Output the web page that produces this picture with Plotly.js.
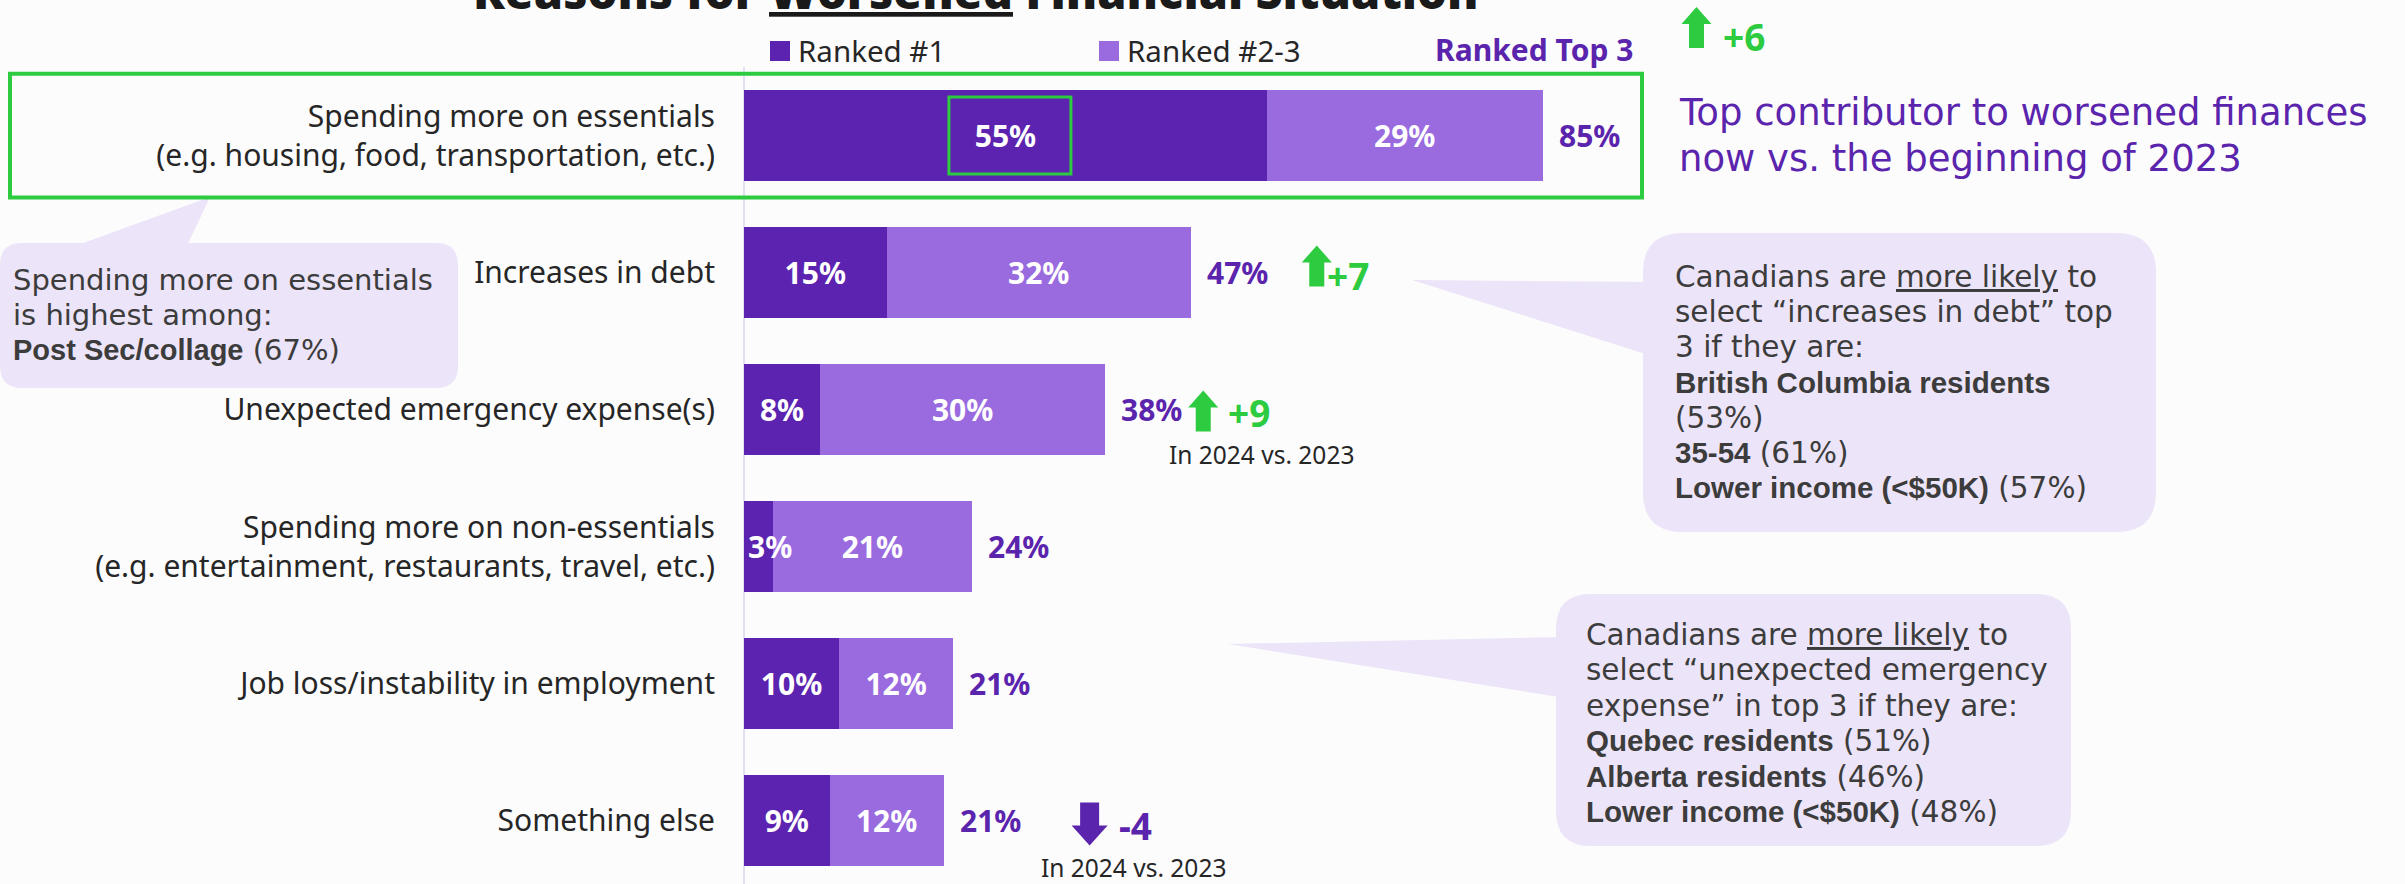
<!DOCTYPE html>
<html>
<head>
<meta charset="utf-8">
<script src="https://cdn.plot.ly/plotly-3.0.1.min.js"></script>
<style>
  html, body { margin: 0; padding: 0; background: #fcfcfd; }
  #chart { width: 2405px; height: 884px; }
</style>
</head>
<body>
<div id="chart"></div>
<script>
// ---------------- data ----------------
const categories = [
  'Spending more on essentials<br>(e.g. housing, food, transportation, etc.)',
  'Increases in debt',
  'Unexpected emergency expense(s)',
  'Spending more on non-essentials<br>(e.g. entertainment, restaurants, travel, etc.)',
  'Job loss/instability in employment',
  'Something else'
];
const seriesNames = ['Ranked #1', 'Ranked #2-3'];
const ranked1 = [55, 15, 8, 3, 10, 9];
const ranked23 = [29, 32, 30, 21, 12, 12];
const rankedTop3 = [85, 47, 38, 24, 21, 21];
const changeVs2023 = [6, 7, 9, null, null, -4];
const totalHeader = 'Ranked Top 3';
const chartTitle = 'Reasons for <u>Worsened</u> Financial Situation';
const changeNote = 'In 2024 vs. 2023';
const headlineLines = ['Top contributor to worsened finances', 'now vs. the beginning of 2023'];
const calloutEssentialsLines = ['Spending more on essentials', 'is highest among:', '<b>Post Sec/collage</b> (67%)'];
const calloutDebtLines = ['Canadians are <u>more likely</u> to', 'select \u201cincreases in debt\u201d top', '3 if they are:',
  '<b>British Columbia residents</b>', '(53%)', '<b>35-54</b> (61%)', '<b>Lower income (&lt;$50K)</b> (57%)'];
const calloutEmergencyLines = ['Canadians are <u>more likely</u> to', 'select \u201cunexpected emergency', 'expense\u201d in top 3 if they are:',
  '<b>Quebec residents</b> (51%)', '<b>Alberta residents</b> (46%)', '<b>Lower income (&lt;$50K)</b> (48%)'];

// ---------------- styles / layout helpers ----------------
const W = 2405, H = 884, L = 744;
const PX = px => (px - L) / (W - L);
const PY = py => 1 - py / H;
const DARK = '#5B23AF', LIGHT = '#9A6BDF', PURPLE_TXT = '#5B24AD', GREEN = '#2DCB40';
const LAV = '#ECE4F8', TXT = '#262626', CTXT = '#3C3C3C';
const SANS = 'Noto Sans', WIDE = 'DejaVu Sans';
const MIN_INSIDE = 5; // segments narrower than this (in %) get their label anchored at the bar start

const boldStyle = t => t.replace(/<b>/g, '<span style="font-family:Liberation Sans;font-weight:bold">').replace(/<\/b>/g, '</span>');
const pt = (x, y) => PX(x).toFixed(5) + ',' + PY(y).toFixed(5);
function roundRect(x0, y0, x1, y1, r) {
  return 'M' + pt(x0 + r, y0) + ' L' + pt(x1 - r, y0) + ' Q' + pt(x1, y0) + ' ' + pt(x1, y0 + r) +
    ' L' + pt(x1, y1 - r) + ' Q' + pt(x1, y1) + ' ' + pt(x1 - r, y1) +
    ' L' + pt(x0 + r, y1) + ' Q' + pt(x0, y1) + ' ' + pt(x0, y1 - r) +
    ' L' + pt(x0, y0 + r) + ' Q' + pt(x0, y0) + ' ' + pt(x0 + r, y0) + ' Z';
}
function tri(a, b, c) { return 'M' + pt(a[0], a[1]) + ' L' + pt(b[0], b[1]) + ' L' + pt(c[0], c[1]) + ' Z'; }

// arrow path in pixel offsets (y up = +)
function arrowPath(cx, base, up) {
  if (up) {
    const w = 30, h = 41, hh = 17, sw = 15;
    return `M${cx - sw / 2},${base} L${cx + sw / 2},${base} L${cx + sw / 2},${base + h - hh} L${cx + w / 2},${base + h - hh} L${cx},${base + h} L${cx - w / 2},${base + h - hh} L${cx - sw / 2},${base + h - hh} Z`;
  }
  const w = 36, h = 43, hh = 20, sw = 19;
  return `M${cx - sw / 2},${base} L${cx + sw / 2},${base} L${cx + sw / 2},${base - (h - hh)} L${cx + w / 2},${base - (h - hh)} L${cx},${base - h} L${cx - w / 2},${base - (h - hh)} L${cx - sw / 2},${base - (h - hh)} Z`;
}
// pixel offsets of change markers relative to bar end (x) and bar centre (y, up +)
const markerPos = {
  0: { ax: 154, ab: 87.5, tx: 178, ty: 99 },
  1: { ax: 126, ab: -14, tx: 134, ty: -3 },
  2: { ax: 98, ab: -22, tx: 121, ty: -3, nx: 156, ny: -45 },
  5: { ax: 146, ab: 18, tx: 173, ty: -5, nx: 190, ny: -47 }
};

// ---------------- traces ----------------
const valueFont = { family: SANS, size: 30, color: '#ffffff', weight: 'bold' };
const barCommon = {
  type: 'bar', orientation: 'h', y: categories, width: 0.665,
  textposition: 'inside', insidetextanchor: 'middle', textangle: 0, constraintext: 'none',
  textfont: valueFont, hoverinfo: 'skip', showlegend: false
};
const traces = [
  Object.assign({}, barCommon, { name: seriesNames[0], x: ranked1, text: ranked1.map(v => v >= MIN_INSIDE ? v + '%' : ''), marker: { color: DARK, line: { width: 0 } } }),
  Object.assign({}, barCommon, { name: seriesNames[1], x: ranked23, text: ranked23.map(v => v + '%'), marker: { color: LIGHT, line: { width: 0 } } })
];

// ---------------- shapes ----------------
const shapes = [
  { type: 'line', xref: 'paper', yref: 'paper', x0: 0, x1: 0, y0: PY(884), y1: PY(67), line: { color: '#DDD7EF', width: 1.5 }, layer: 'below' },
  { type: 'rect', xref: 'paper', yref: 'paper', x0: PX(770), x1: PX(790), y0: PY(61), y1: PY(41), fillcolor: DARK, line: { width: 0 } },
  { type: 'rect', xref: 'paper', yref: 'paper', x0: PX(1099), x1: PX(1119), y0: PY(61), y1: PY(41), fillcolor: LIGHT, line: { width: 0 } },
  { type: 'rect', xref: 'paper', yref: 'paper', x0: PX(10), x1: PX(1642), y0: PY(197.5), y1: PY(73.7), line: { color: GREEN, width: 4 }, fillcolor: 'rgba(0,0,0,0)', layer: 'above' },
  { type: 'rect', xref: 'x', yref: 'y', xsizemode: 'pixel', ysizemode: 'pixel', xanchor: ranked1[0] / 2, yanchor: 0,
    x0: -56.5, x1: 65.5, y0: -38.5, y1: 38.5, line: { color: GREEN, width: 3 }, fillcolor: 'rgba(0,0,0,0)', layer: 'above' },
  { type: 'path', xref: 'paper', yref: 'paper', path: roundRect(0, 243, 458, 388, 22), fillcolor: LAV, line: { width: 0 }, layer: 'below' },
  { type: 'path', xref: 'paper', yref: 'paper', path: tri([64, 250], [210, 197], [185, 250]), fillcolor: LAV, line: { width: 0 }, layer: 'below' },
  { type: 'path', xref: 'paper', yref: 'paper', path: roundRect(1643, 233, 2156, 532, 40), fillcolor: LAV, line: { width: 0 }, layer: 'below' },
  { type: 'path', xref: 'paper', yref: 'paper', path: tri([1412, 280], [1655, 282], [1655, 357]), fillcolor: LAV, line: { width: 0 }, layer: 'below' },
  { type: 'path', xref: 'paper', yref: 'paper', path: roundRect(1556, 594, 2071, 846, 35), fillcolor: LAV, line: { width: 0 }, layer: 'below' },
  { type: 'path', xref: 'paper', yref: 'paper', path: tri([1228, 644], [1565, 637], [1565, 698]), fillcolor: LAV, line: { width: 0 }, layer: 'below' }
];

// ---------------- annotations ----------------
const annotations = [
  { xref: 'paper', yref: 'paper', x: PX(976), y: PY(-9), xanchor: 'center', yanchor: 'middle', showarrow: false,
    text: chartTitle, font: { family: SANS, size: 47, color: '#1a1a1a', weight: 900 } },
  { xref: 'paper', yref: 'paper', x: PX(796), y: PY(50), xanchor: 'left', yanchor: 'middle', showarrow: false,
    text: seriesNames[0], font: { family: SANS, size: 29.5, color: TXT } },
  { xref: 'paper', yref: 'paper', x: PX(1125), y: PY(50), xanchor: 'left', yanchor: 'middle', showarrow: false,
    text: seriesNames[1], font: { family: SANS, size: 29.5, color: TXT } },
  { xref: 'paper', yref: 'paper', x: PX(1635), y: PY(49.5), xanchor: 'right', yanchor: 'middle', showarrow: false,
    text: totalHeader, font: { family: SANS, size: 30, color: PURPLE_TXT, weight: 'bold' } }
];
function addLines(lines, xLeft, yFirst, pitch, font) {
  lines.forEach((t, k) => annotations.push({ xref: 'paper', yref: 'paper', x: PX(xLeft), y: PY(yFirst + k * pitch),
    xanchor: 'left', yanchor: 'middle', align: 'left', showarrow: false, borderpad: 0, text: boldStyle(t), font: font }));
}
addLines(headlineLines, 1678, 112, 46, { family: WIDE, size: 37, color: PURPLE_TXT });
addLines(calloutEssentialsLines, 12, 280, 35, { family: WIDE, size: 29, color: CTXT });
addLines(calloutDebtLines, 1674, 277, 35.2, { family: WIDE, size: 29.5, color: CTXT });
addLines(calloutEmergencyLines, 1585, 635, 35.4, { family: WIDE, size: 29.5, color: CTXT });

categories.forEach((c, i) => {
  const end = ranked1[i] + ranked23[i];
  if (ranked1[i] < MIN_INSIDE) {
    annotations.push({ xref: 'x', yref: 'y', x: 0, y: c, xanchor: 'left', yanchor: 'middle', xshift: 2, showarrow: false,
      text: ranked1[i] + '%', font: valueFont });
  }
  annotations.push({ xref: 'x', yref: 'y', x: end, y: c, xanchor: 'left', yanchor: 'middle', xshift: 14, showarrow: false,
    text: rankedTop3[i] + '%', font: { family: SANS, size: 30, color: PURPLE_TXT, weight: 'bold' } });
  const d = changeVs2023[i];
  if (d === null) return;
  const m = markerPos[i];
  const up = d > 0;
  const col = up ? GREEN : PURPLE_TXT;
  shapes.push({ type: 'path', xref: 'x', yref: 'y', xsizemode: 'pixel', ysizemode: 'pixel', xanchor: end, yanchor: i,
    path: arrowPath(m.ax, m.ab, up), fillcolor: col, line: { width: 0 }, layer: 'above' });
  annotations.push({ xref: 'x', yref: 'y', x: end, y: c, xanchor: 'left', yanchor: 'middle', xshift: m.tx, yshift: m.ty, showarrow: false,
    text: (up ? '+' : '') + d, font: { family: SANS, size: 37, color: col, weight: 'bold' } });
  if (m.nx !== undefined) {
    annotations.push({ xref: 'x', yref: 'y', x: end, y: c, xanchor: 'center', yanchor: 'middle', xshift: m.nx, yshift: m.ny, showarrow: false,
      text: changeNote, font: { family: SANS, size: 24.5, color: TXT } });
  }
});

const layout = {
  width: W, height: H,
  margin: { l: L, r: 0, t: 0, b: 0, pad: 0 },
  paper_bgcolor: '#fcfcfd', plot_bgcolor: '#fcfcfd',
  barmode: 'stack', showlegend: false,
  xaxis: { range: [0, (W - L) / 9.506], visible: false, fixedrange: true },
  yaxis: { type: 'category', range: [(H - 135.5) / 137, -135.5 / 137], showgrid: false, zeroline: false, showline: false,
    ticks: '', ticklabelstandoff: 28, tickfont: { family: SANS, size: 30, color: TXT }, fixedrange: true },
  shapes: shapes, annotations: annotations
};

Plotly.newPlot('chart', traces, layout, { staticPlot: true, displayModeBar: false });
</script>
</body>
</html>
